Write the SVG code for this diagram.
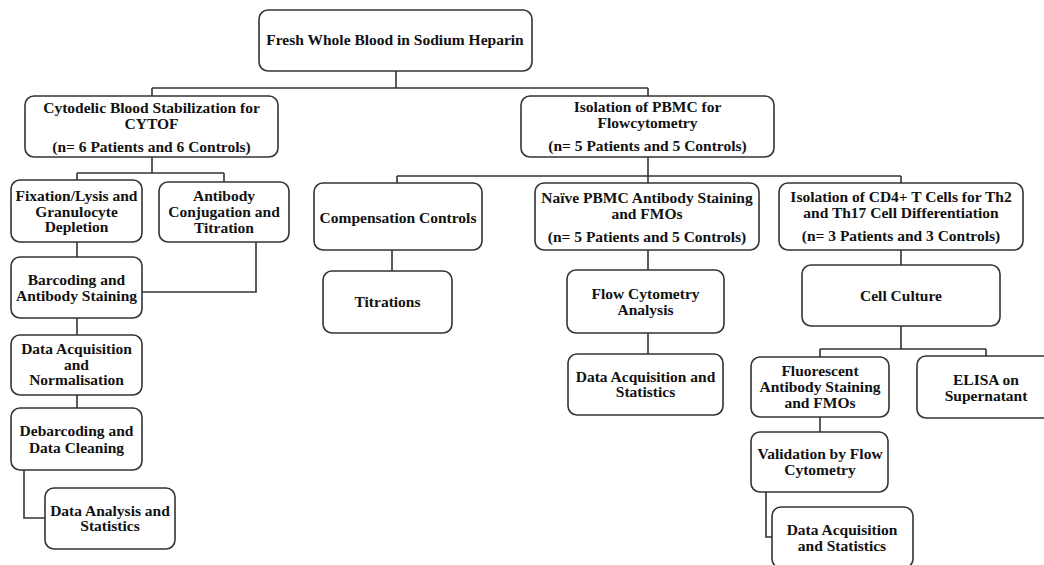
<svg xmlns="http://www.w3.org/2000/svg" width="1044" height="565" viewBox="0 0 1044 565">
<style>
.box{fill:#fff;stroke:#333;stroke-width:1.6}
.t{font-family:"Liberation Serif","Times New Roman",serif;font-weight:bold;font-size:15.5px;fill:#111;text-anchor:middle}
.c{fill:none;stroke:#333;stroke-width:1.6}
</style>
<rect width="1044" height="565" fill="#fff"/>
<g id="connectors" class="c">
<path d="M396 71V88M152 88H648M152 88V96M648 88V96"/>
<path d="M152 157V173M77 173H224M77 173V180M224 173V182"/>
<path d="M77 242V257"/>
<path d="M256 242V292H142"/>
<path d="M77 318V335"/>
<path d="M77 395V408"/>
<path d="M24 470V518H45"/>
<path d="M648 157V176M397 176H901M397 176V183M648 176V183M901 176V183"/>
<path d="M392 250V271"/>
<path d="M648 250V270"/>
<path d="M648 333V354"/>
<path d="M901 250V265"/>
<path d="M901 326V349M820 349H986M820 349V357M986 349V356"/>
<path d="M820 417V432"/>
<path d="M766 492V537H772"/>
</g>
<g id="root"><rect class="box" x="259" y="10" width="273" height="61" rx="9"/><text class="t" x="395" y="45">Fresh Whole Blood in Sodium Heparin</text></g>
<g id="cytof"><rect class="box" x="25" y="96" width="253" height="61" rx="9"/><text class="t" x="151.5" y="113">Cytodelic Blood Stabilization for</text><text class="t" x="151.5" y="129">CYTOF</text><text class="t" x="151.5" y="152">(n= 6 Patients and 6 Controls)</text></g>
<g id="pbmc"><rect class="box" x="521" y="96" width="253" height="61" rx="9"/><text class="t" x="647.5" y="112">Isolation of PBMC for</text><text class="t" x="647.5" y="128">Flowcytometry</text><text class="t" x="647.5" y="151">(n= 5 Patients and 5 Controls)</text></g>
<g id="fixation"><rect class="box" x="11" y="180" width="131" height="62" rx="9"/><text class="t" x="76.5" y="201">Fixation/Lysis and</text><text class="t" x="76.5" y="217">Granulocyte</text><text class="t" x="76.5" y="232">Depletion</text></g>
<g id="antibody"><rect class="box" x="159" y="182" width="130" height="60" rx="9"/><text class="t" x="224" y="201">Antibody</text><text class="t" x="224" y="217">Conjugation and</text><text class="t" x="224" y="233">Titration</text></g>
<g id="barcoding"><rect class="box" x="11" y="257" width="131" height="61" rx="9"/><text class="t" x="76.5" y="285">Barcoding and</text><text class="t" x="76.5" y="301">Antibody Staining</text></g>
<g id="dataacq1"><rect class="box" x="11" y="335" width="131" height="60" rx="9"/><text class="t" x="76.5" y="354">Data Acquisition</text><text class="t" x="76.5" y="370">and</text><text class="t" x="76.5" y="385">Normalisation</text></g>
<g id="debarcoding"><rect class="box" x="11" y="408" width="131" height="62" rx="9"/><text class="t" x="76.5" y="436">Debarcoding and</text><text class="t" x="76.5" y="453">Data Cleaning</text></g>
<g id="dataanalysis"><rect class="box" x="45" y="488" width="130" height="61" rx="9"/><text class="t" x="110" y="516">Data Analysis and</text><text class="t" x="110" y="531">Statistics</text></g>
<g id="compensation"><rect class="box" x="314" y="183" width="168" height="67" rx="9"/><text class="t" x="398" y="223">Compensation Controls</text></g>
<g id="titrations"><rect class="box" x="323" y="271" width="129" height="62" rx="9"/><text class="t" x="387.5" y="307">Titrations</text></g>
<g id="naive"><rect class="box" x="535" y="183" width="224" height="67" rx="9"/><text class="t" x="647" y="203">Naïve PBMC Antibody Staining</text><text class="t" x="647" y="219">and FMOs</text><text class="t" x="647" y="242">(n= 5 Patients and 5 Controls)</text></g>
<g id="flow"><rect class="box" x="567" y="270" width="157" height="63" rx="9"/><text class="t" x="645.5" y="299">Flow Cytometry</text><text class="t" x="645.5" y="315">Analysis</text></g>
<g id="dataacq2"><rect class="box" x="568" y="354" width="155" height="61" rx="9"/><text class="t" x="645.5" y="382">Data Acquisition and</text><text class="t" x="645.5" y="397">Statistics</text></g>
<g id="cd4"><rect class="box" x="779" y="183" width="244" height="67" rx="9"/><text class="t" x="901" y="202">Isolation of CD4+ T Cells for Th2</text><text class="t" x="901" y="218">and Th17 Cell Differentiation</text><text class="t" x="901" y="241">(n= 3 Patients and 3 Controls)</text></g>
<g id="culture"><rect class="box" x="802" y="265" width="198" height="61" rx="9"/><text class="t" x="901" y="301">Cell Culture</text></g>
<g id="fluorescent"><rect class="box" x="751" y="357" width="138" height="60" rx="9"/><text class="t" x="820" y="376">Fluorescent</text><text class="t" x="820" y="392">Antibody Staining</text><text class="t" x="820" y="408">and FMOs</text></g>
<g id="elisa"><rect class="box" x="917" y="356" width="138" height="62" rx="9"/><text class="t" x="986" y="385">ELISA on</text><text class="t" x="986" y="401">Supernatant</text></g>
<g id="validation"><rect class="box" x="751" y="432" width="137" height="60" rx="9"/><text class="t" x="820" y="459">Validation by Flow</text><text class="t" x="820" y="475">Cytometry</text></g>
<g id="dataacq3"><rect class="box" x="772" y="507" width="141" height="61" rx="9"/><text class="t" x="842" y="535">Data Acquisition</text><text class="t" x="842" y="551">and Statistics</text></g>
</svg>
